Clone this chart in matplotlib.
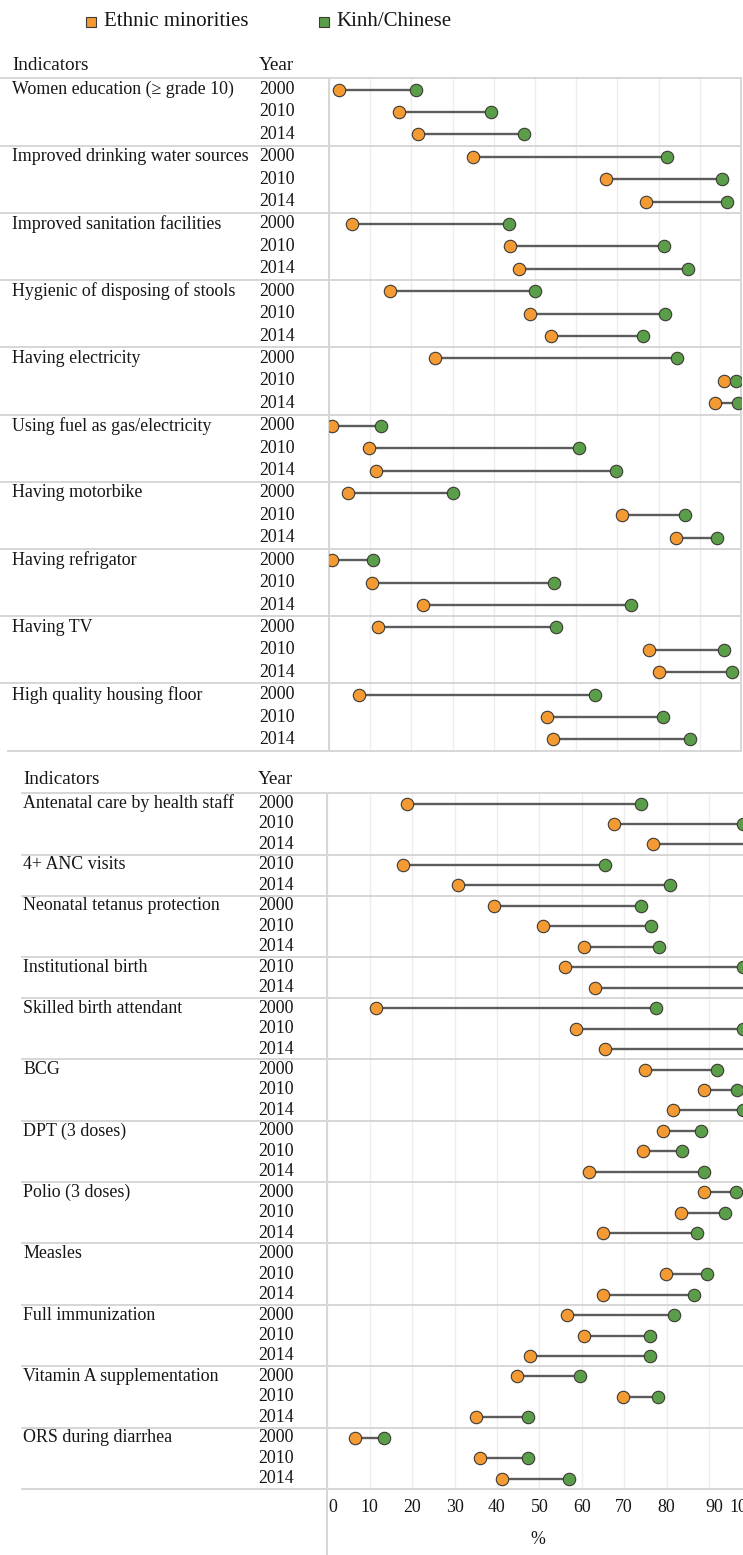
import numpy as np
import matplotlib
matplotlib.use("Agg")
import matplotlib.pyplot as plt
import matplotlib.transforms as mtransforms
from matplotlib.lines import Line2D

plt.rcParams['font.family'] = ['Liberation Serif', 'DejaVu Serif']

# --- data (%) ---
top_indicators = ['Women education (\u2265 grade 10)', 'Improved drinking water sources',
                  'Improved sanitation facilities', 'Hygienic of disposing of stools',
                  'Having electricity', 'Using fuel as gas/electricity', 'Having motorbike',
                  'Having refrigator', 'Having TV', 'High quality housing floor']
top_years = [[2000, 2010, 2014]] * 10
top_ethnic = [2.5, 17.0, 21.5, 34.9, 67.3, 76.9, 5.7, 43.9, 46.0, 14.7, 48.7, 53.8,
              25.7, 95.8, 93.8, 0.8, 9.7, 11.3, 4.7, 71.1, 84.3, 0.8, 10.4, 22.8,
              12.0, 77.7, 80.2, 7.3, 52.9, 54.3]
top_kinh = [21.1, 39.4, 47.3, 82.1, 95.3, 96.5, 43.6, 81.2, 87.1, 49.9, 81.5, 76.2,
            84.5, 98.9, 99.3, 12.7, 60.7, 69.6, 30.2, 86.4, 94.2, 10.6, 54.5, 73.3,
            55.0, 95.8, 97.7, 64.5, 81.0, 87.5]

bottom_indicators = ['Antenatal care by health staff', '4+ ANC visits', 'Neonatal tetanus protection',
                     'Institutional birth', 'Skilled birth attendant', 'BCG', 'DPT (3 doses)',
                     'Polio (3 doses)', 'Measles', 'Full immunization', 'Vitamin A supplementation',
                     'ORS during diarrhea']
bottom_years = [[2000, 2010, 2014], [2010, 2014], [2000, 2010, 2014], [2010, 2014],
                [2000, 2010, 2014], [2000, 2010, 2014], [2000, 2010, 2014], [2000, 2010, 2014],
                [2000, 2010, 2014], [2000, 2010, 2014], [2000, 2010, 2014], [2000, 2010, 2014]]
nan = np.nan
bottom_ethnic = [18.9, 67.6, 76.8, 17.8, 30.9, 39.2, 50.9, 60.5, 56.1, 63.1, 11.5, 58.7, 65.5,
                 74.9, 88.7, 81.4, 79.1, 74.4, 61.7, 88.7, 83.5, 65.1, nan, 79.8, 64.9,
                 56.4, 60.6, 47.9, 44.8, 69.8, 35.0, 6.5, 35.9, 41.3]
bottom_kinh = [73.9, 98.0, 100.0, 65.5, 80.8, 73.9, 76.4, 78.1, 98.0, 100.0, 77.5, 98.0, 100.0,
               91.8, 96.7, 98.0, 88.0, 83.6, 88.9, 96.3, 93.7, 87.2, nan, 89.5, 86.5,
               81.7, 76.1, 76.1, 59.6, 77.9, 47.3, 13.4, 47.3, 56.9]

x_ticks = [0, 10, 20, 30, 40, 50, 60, 70, 80, 90, 100]

ORANGE = '#F39A33'
GREEN = '#5A9E4A'
EDGE = '#3f3a33'
LINE = '#5c5c5c'
GRID = '#ededed'
FRAME = '#d6d6d6'
TXT = '#161616'
FS = 12.9

W, H = 743, 1555
fig = plt.figure(figsize=(W / 100, H / 100), dpi=100)


def fx(px):
    return px / W


def fy(py):
    return 1 - py / H


def panel(top, bottom, left, right, xmax, names, years, ethnic, kinh,
          label_x, year_x, line_x0, head_y):
    ax = fig.add_axes([fx(left), fy(bottom), fx(right) - fx(left), (bottom - top) / H])
    n = len(ethnic)
    rows = np.arange(n) + 0.5
    ax.set_xlim(0, xmax)
    ax.set_ylim(n, 0)
    ax.set_xticks(x_ticks[:-1] if xmax < 100 else x_ticks)
    ax.tick_params(length=0, labelbottom=False, labelleft=False)
    ax.set_yticks([])
    ax.grid(axis='x', color=GRID, lw=1)
    ax.set_axisbelow(True)
    for s in ax.spines.values():
        s.set_color(FRAME)
        s.set_linewidth(1.4)

    e = np.array(ethnic)
    k = np.array(kinh)
    ax.hlines(rows, e, k, color=LINE, lw=1.7, zorder=2)
    ax.scatter(e, rows, s=80, color=ORANGE, edgecolor=EDGE, linewidth=0.8, zorder=3)
    ax.scatter(k, rows, s=80, color=GREEN, edgecolor=EDGE, linewidth=0.8, zorder=3)

    trans = mtransforms.blended_transform_factory(fig.transFigure, ax.transData)
    # header
    fig.text(fx(label_x), fy(head_y), 'Indicators', fontsize=13.8, color=TXT, va='center')
    fig.text(fx(year_x), fy(head_y), 'Year', fontsize=13.8, color=TXT, va='center')

    start = 0
    for name, yrs in zip(names, years):
        ax.text(fx(label_x), start + 0.5, name, transform=trans, fontsize=FS,
                color=TXT, va='center', ha='left')
        for j, yr in enumerate(yrs):
            ax.text(fx(year_x), start + j + 0.5, str(yr), transform=trans, fontsize=FS,
                    color=TXT, va='center', ha='left')
        ax.add_line(Line2D([fx(line_x0), fx(left)], [start, start], transform=trans,
                           color=FRAME, lw=1.4, clip_on=False))
        if start > 0:
            ax.axhline(start, color=FRAME, lw=1.4, zorder=1)
        start += len(yrs)
    return ax, trans


ax1, tr1 = panel(78.3, 750.7, 329, 741, 100.0, top_indicators, top_years,
                 top_ethnic, top_kinh, 12, 259, 0, 65)
ax1.add_line(Line2D([fx(8), fx(329)], [30, 30], transform=tr1, color=FRAME, lw=1.4,
                    clip_on=False))

ax2, tr2 = panel(793.3, 1489, 327.3, 743, 98.0, bottom_indicators, bottom_years,
                 bottom_ethnic, bottom_kinh, 23, 258, 22, 780)
ax2.spines['right'].set_visible(False)
ax2.add_line(Line2D([fx(22), fx(327.3)], [34, 34], transform=tr2, color=FRAME, lw=1.4,
                    clip_on=False))
# left axis line runs down past the tick labels
fig.add_artist(Line2D([fx(327.3), fx(327.3)], [fy(1489), 0], transform=fig.transFigure,
                      color=FRAME, lw=1.4))

# x tick labels for the lower panel (squeezed a little at both ends, as in the source)
tx = mtransforms.blended_transform_factory(ax2.transData, fig.transFigure)
nudge = {0: 6, 90: 5, 100: -9}
for t in x_ticks:
    off = mtransforms.ScaledTranslation(nudge.get(t, 0) / 100, 0, fig.dpi_scale_trans)
    ax2.text(t, fy(1508), str(t), transform=tx + off, fontsize=FS, color=TXT,
             ha='center', va='center', clip_on=False)
fig.text(fx(538), fy(1540), '%', fontsize=FS, color=TXT, ha='center', va='center')

# legend
for px, col, lab in [(91, ORANGE, 'Ethnic minorities'), (323.5, GREEN, 'Kinh/Chinese')]:
    fig.add_artist(Line2D([fx(px)], [fy(21.7)], marker='s', markersize=6.6,
                          markerfacecolor=col, markeredgecolor=EDGE, markeredgewidth=0.8,
                          linestyle='none', transform=fig.transFigure))
    fig.text(fx(px + 13), fy(21.7), lab, fontsize=15, color=TXT, va='center', ha='left')

fig.savefig('out.png', dpi=100, facecolor='white')
